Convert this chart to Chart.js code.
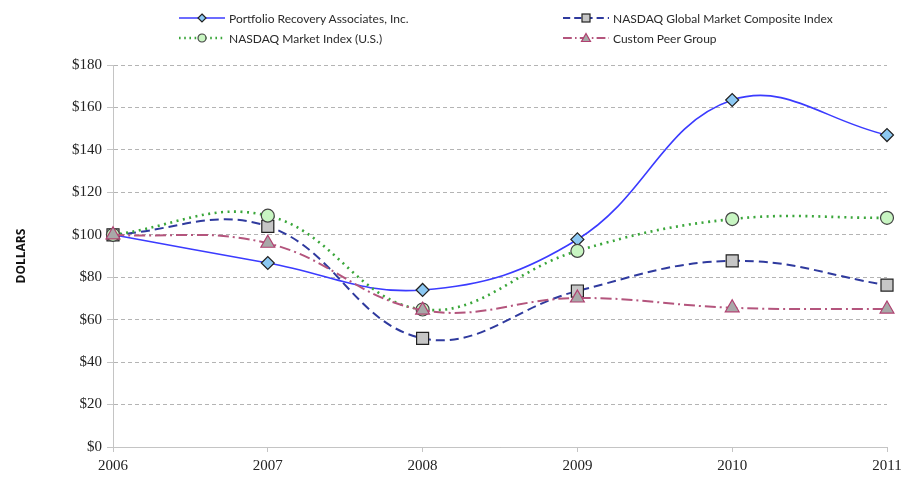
<!DOCTYPE html>
<html>
<head>
<meta charset="utf-8">
<script src="https://cdn.jsdelivr.net/npm/chart.js@4.4.1/dist/chart.umd.min.js"></script>
<style>
  html, body { margin: 0; padding: 0; background: #fff; }
  #wrap { position: relative; width: 902px; height: 480px; }
  #c { position: absolute; left: 0; top: 0; }
  .lg { position: absolute; display: flex; align-items: center; font-family: Lato, "Open Sans", sans-serif; font-size: 12px; color: #2a2a2a; white-space: nowrap; }
  .lg svg { margin-right: 3px; }
</style>
</head>
<body>
<div id="wrap">
  <canvas id="c" width="902" height="480"></canvas>
  <div id="legend"></div>
</div>
<script>
const years = ['2006', '2007', '2008', '2009', '2010', '2011'];
const portfolioRecovery = [100, 86.7, 74, 97.8, 163.5, 147];
const nasdaqGlobal = [100, 104, 51.2, 73.5, 87.7, 76.3];
const nasdaqMarket = [100, 109, 64.8, 92.4, 107.4, 108];
const customPeer = [100, 96, 64.5, 70.2, 65.6, 65];
const seriesNames = ['Portfolio Recovery Associates, Inc.', 'NASDAQ Global Market Composite Index', 'NASDAQ Market Index (U.S.)', 'Custom Peer Group'];
const yTicks = [0, 20, 40, 60, 80, 100, 120, 140, 160, 180];

const styles = [
  { line: '#3b3bff', dash: [], width: 1.6, point: 'rectRot', radius: 6.5, fill: '#8cc8f2', pborder: '#222' },
  { line: '#2f3a9e', dash: [9, 5], width: 2, point: 'rect', radius: 8.5, fill: '#c6c6c6', pborder: '#222' },
  { line: '#3aa63a', dash: [2, 4.5], width: 2.6, point: 'circle', radius: 6.5, fill: '#c8f5c2', pborder: '#444' },
  { line: '#b4557d', dash: [11, 4, 2, 4], width: 2, point: 'triangle', radius: 8, fill: '#a8a8a8', pborder: '#b04070' }
];
const dataArrays = [portfolioRecovery, nasdaqGlobal, nasdaqMarket, customPeer];
const order = [2, 3, 1, 0];

const datasets = dataArrays.map((d, i) => ({
  label: seriesNames[i],
  data: d,
  borderColor: styles[i].line,
  borderDash: styles[i].dash,
  borderWidth: styles[i].width,
  tension: 0.4,
  fill: false,
  pointStyle: styles[i].point,
  pointRadius: styles[i].radius,
  pointHoverRadius: styles[i].radius,
  pointBackgroundColor: styles[i].fill,
  pointBorderColor: styles[i].pborder,
  pointBorderWidth: 1.2,
  order: order[i]
}));

new Chart(document.getElementById('c'), {
  type: 'line',
  data: { labels: years, datasets },
  options: {
    responsive: false,
    animation: false,
    devicePixelRatio: 1,
    layout: { padding: { top: 65, right: 15, bottom: 0, left: 0 } },
    plugins: { legend: { display: false }, tooltip: { enabled: false } },
    scales: {
      x: {
        type: 'category',
        offset: false,
        grid: { display: true, drawOnChartArea: false, drawTicks: true, tickLength: 5, color: '#c4c4c4' },
        border: { display: true, color: '#c4c4c4' },
        ticks: { font: { family: '"Liberation Serif", serif', size: 15 }, color: '#222', padding: 5, maxRotation: 0, autoSkip: false },
        afterFit: (s) => { s.height = 33; s.paddingLeft = 0; s.paddingRight = 0; }
      },
      y: {
        min: 0, max: 180,
        afterBuildTicks: (s) => { s.ticks = yTicks.map(v => ({ value: v })); },
        grid: { color: '#b4b4b4', tickLength: 6, tickBorderDash: [], tickColor: '#c4c4c4' },
        border: { display: true, color: '#c4c4c4', dash: [4, 3] },
        ticks: { font: { family: '"Liberation Serif", serif', size: 15 }, color: '#222', padding: 5, callback: (v) => '$' + v },
        title: { display: true, text: 'DOLLARS', font: { family: '"Open Sans", sans-serif', size: 12, weight: 'bold' }, color: '#111', padding: { top: 14, bottom: 0 } },
        afterFit: (s) => { s.width = 113; }
      }
    }
  }
});

// HTML legend
const legendPos = [
  { x: 178, y: 18 }, { x: 562, y: 18 }, { x: 178, y: 38 }, { x: 562, y: 38 }
];
function marker(i) {
  const st = styles[i];
  const cx = 24, cy = 8;
  if (st.point === 'rectRot') return `<polygon points="${cx},${cy-4} ${cx+4},${cy} ${cx},${cy+4} ${cx-4},${cy}" fill="${st.fill}" stroke="${st.pborder}" stroke-width="1.2"/>`;
  if (st.point === 'rect') return `<rect x="${cx-4}" y="${cy-4}" width="8" height="8" fill="${st.fill}" stroke="${st.pborder}" stroke-width="1.2"/>`;
  if (st.point === 'circle') return `<circle cx="${cx}" cy="${cy}" r="4" fill="${st.fill}" stroke="${st.pborder}" stroke-width="1.2"/>`;
  return `<polygon points="${cx},${cy-4.5} ${cx+4.5},${cy+3.5} ${cx-4.5},${cy+3.5}" fill="${st.fill}" stroke="${st.pborder}" stroke-width="1.2"/>`;
}
const lg = document.getElementById('legend');
seriesNames.forEach((name, i) => {
  const st = styles[i];
  const p = legendPos[i];
  const el = document.createElement('div');
  el.className = 'lg';
  el.style.left = p.x + 'px';
  el.style.top = (p.y - 8) + 'px';
  const dash = st.dash.length ? `stroke-dasharray="${st.dash.map(v => v * 0.8).join(',')}"` : '';
  el.innerHTML = `<svg width="48" height="16" viewBox="0 0 48 16"><line x1="1" y1="8" x2="47" y2="8" stroke="${st.line}" stroke-width="${st.width}" ${dash}/>${marker(i)}</svg><span>${name}</span>`;
  lg.appendChild(el);
});
</script>
</body>
</html>
